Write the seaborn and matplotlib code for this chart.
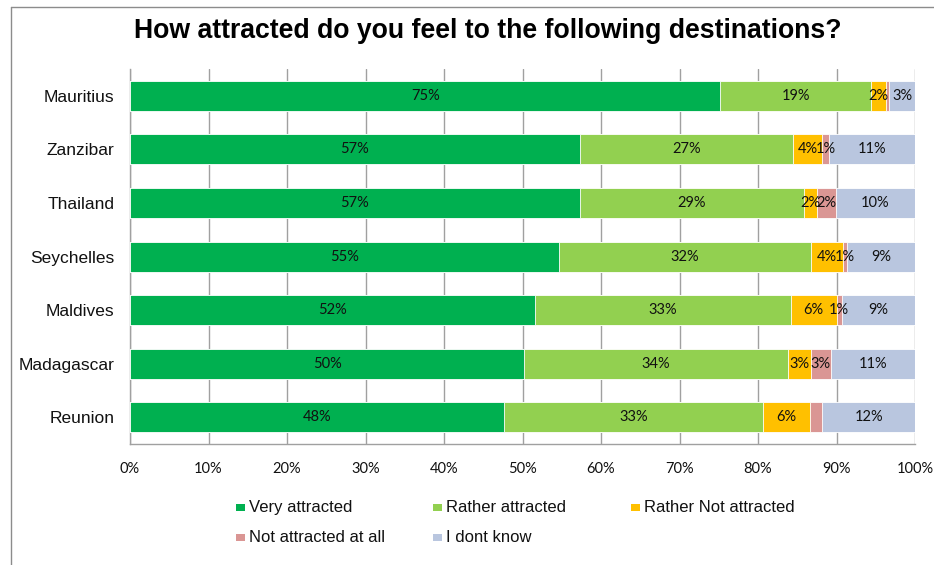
import numpy as np
import pandas as pd
import seaborn as sns
import matplotlib
matplotlib.use("Agg")
import matplotlib.pyplot as plt
from matplotlib.patches import Rectangle
from matplotlib.lines import Line2D

# ---- data -------------------------------------------------------------
destinations = ["Mauritius", "Zanzibar", "Thailand", "Seychelles",
                "Maldives", "Madagascar", "Reunion"]
series_names = ["Very attracted", "Rather attracted", "Rather Not attracted",
                "Not attracted at all", "I dont know"]

very_attracted = [75.2, 57.3, 57.3, 54.6, 51.6, 50.2, 47.6]
rather_attracted = [19.2, 27.1, 28.6, 32.2, 32.6, 33.6, 33.1]
rather_not_attracted = [1.9, 3.8, 1.6, 4.0, 5.8, 2.9, 5.9]
not_attracted_at_all = [0.4, 0.8, 2.4, 0.6, 0.7, 2.6, 1.6]
dont_know = [3.3, 11.0, 10.1, 8.6, 9.3, 10.7, 11.8]

# segments whose value label is not shown (series index, destination)
unlabelled = [(3, "Mauritius"), (3, "Reunion")]

x_ticks = [0, 10, 20, 30, 40, 50, 60, 70, 80, 90, 100]
x_tick_labels = [f"{t}%" for t in x_ticks]

colors = ["#00B050", "#92D050", "#FFC000", "#DA9694", "#B9C6DF"]

# ---- build table ------------------------------------------------------
series_values = [very_attracted, rather_attracted, rather_not_attracted,
                 not_attracted_at_all, dont_know]
df = pd.DataFrame(dict(zip(series_names, series_values)), index=destinations)
cum = df.cumsum(axis=1)

sns.set_theme(style="white")
plt.rcParams["font.family"] = ["Liberation Sans", "DejaVu Sans"]

fig = plt.figure(figsize=(9.34, 5.65), dpi=100)
ax = fig.add_axes([130 / 934, 1 - 444 / 565, 785 / 934, 375 / 565])

# stacked bars: draw cumulative totals from the outermost series inwards
for i in range(len(series_names) - 1, -1, -1):
    name = series_names[i]
    plot_df = pd.DataFrame({"destination": destinations,
                            "value": cum[name].values})
    sns.barplot(data=plot_df, x="value", y="destination", orient="h",
                color=colors[i], saturation=1, width=0.56,
                edgecolor="white", linewidth=0.6, ax=ax, zorder=3)

# value labels centred in each segment
for i, name in enumerate(series_names):
    for j, dest in enumerate(destinations):
        if (i, dest) in unlabelled:
            continue
        v = df.loc[dest, name]
        centre = cum.loc[dest, name] - v / 2
        ax.text(centre, j, f"{v:.0f}%", ha="center", va="center",
                fontsize=10.5, family=["Lato", "DejaVu Sans"],
                color="#111111", zorder=5)

ax.set_xlim(0, 100)
ax.set_ylim(6.5, -0.5)
ax.set_xticks(x_ticks)
ax.set_xticklabels(x_tick_labels, family=["Lato", "DejaVu Sans"],
                   fontsize=10.5, color="#111111")
ax.set_xlabel("")
ax.set_ylabel("")
ax.tick_params(axis="x", length=0, pad=13)
ax.tick_params(axis="y", length=0, pad=11, labelsize=12.5, labelcolor="#111111")

ax.grid(axis="x", color="#A0A0A0", linewidth=1, zorder=0)
ax.grid(axis="y", visible=False)
for side in ["top", "right"]:
    ax.spines[side].set_visible(False)
for side in ["left", "bottom"]:
    ax.spines[side].set_color("#A0A0A0")
    ax.spines[side].set_linewidth(1)
ax.set_axisbelow(True)

fig.text(0.522, 1 - 31.5 / 565, "How attracted do you feel to the following destinations?",
         ha="center", va="center", fontsize=19.2, fontweight="bold", color="#000000")

# legend laid out in rows of three
legend_slots = [(236, 507.5), (433, 507.5), (631, 507.5), (236, 537.5), (433, 537.5)]
for (px, py), name, col in zip(legend_slots, series_names, colors):
    fig.add_artist(Rectangle((px / 934, 1 - (py + 3.5) / 565), 9 / 934, 7 / 565,
                             transform=fig.transFigure, facecolor=col,
                             edgecolor="none"))
    fig.text((px + 13) / 934, 1 - py / 565, name, ha="left", va="center",
             fontsize=12, color="#111111")

# chart frame edges
fig.add_artist(Line2D([10.5 / 934, 10.5 / 934], [0, 1 - 6.5 / 565],
                      transform=fig.transFigure, color="#8C8C8C", linewidth=1))
fig.add_artist(Line2D([10.5 / 934, 1], [1 - 6.5 / 565, 1 - 6.5 / 565],
                      transform=fig.transFigure, color="#8C8C8C", linewidth=1))

fig.savefig("out.png", dpi=100, facecolor="white")
